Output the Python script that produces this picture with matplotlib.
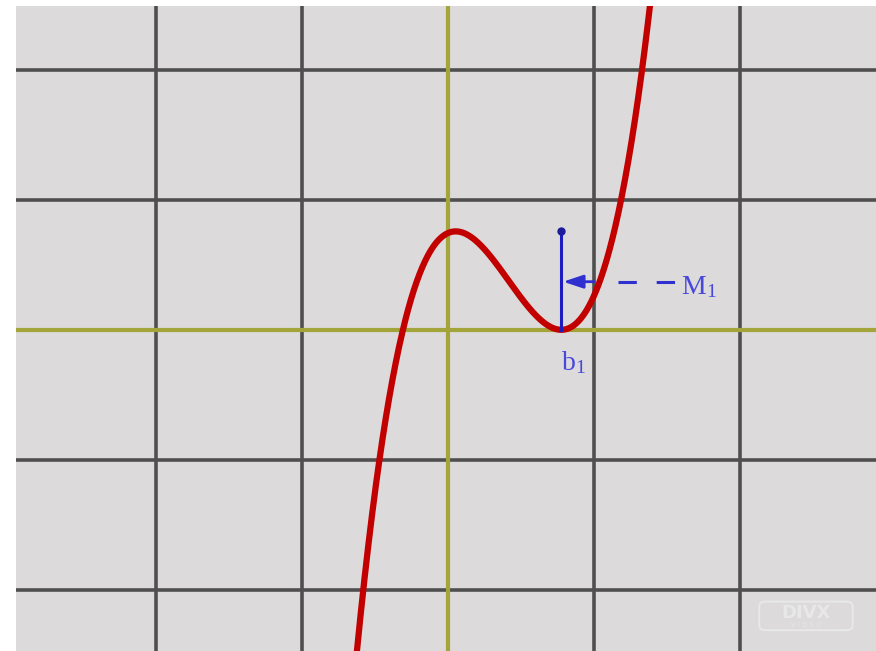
import numpy as np
import matplotlib
matplotlib.use("Agg")
import matplotlib.pyplot as plt
from matplotlib.patches import FancyBboxPatch

plt.rcParams["mathtext.fontset"] = "stix"

### donnees
grid_x = [-2, -1, 1, 2]
grid_y = [-2, -1, 1, 2]

# cubique f(x) = a (x - r) (x - m)^2 , racine double en b1
a = 4.0
r = -0.31
m = 0.775

x_lim = (-2.96, 2.93)
y_lim = (-2.47, 2.49)

arrow_y = 0.37
arrow_tail = 1.0
dash_x = [1.16, 1.555]

### figure
fig = plt.figure(figsize=(8.76, 6.51), dpi=100)
fig.patch.set_facecolor("white")
ax = fig.add_axes([16/876, 0, 860/876, 645/651])
ax.set_facecolor("#dcdadb")
ax.set_xlim(x_lim)
ax.set_ylim(y_lim)
ax.set_xticks([])
ax.set_yticks([])
for s in ax.spines.values():
    s.set_visible(False)

for gx in grid_x:
    ax.axvline(gx, color="#4f4f4f", lw=2.6, zorder=1)
for gy in grid_y:
    ax.axhline(gy, color="#4f4f4f", lw=2.6, zorder=1)
ax.axvline(0, color="#a3a53a", lw=3, zorder=2)
ax.axhline(0, color="#a3a53a", lw=3, zorder=2)

x = np.linspace(-0.75, 1.5, 600)
y = a*(x - r)*(x - m)**2
ax.plot(x, y, color="#c20000", lw=4.5, zorder=4, solid_capstyle="round")

x_max = (m + 2*r)/3
y_top = a*(x_max - r)*(x_max - m)**2

# segment bleu
ax.plot([m, m], [0, y_top], color="#1c1cc0", lw=2.2, zorder=5)
ax.plot([m], [y_top], "o", color="#1c1c9c", ms=5, zorder=6)

ax.annotate("", xy=(m + 0.012, arrow_y), xytext=(arrow_tail, arrow_y),
            arrowprops=dict(arrowstyle="-|>,head_length=1.2,head_width=0.4",
                            color="#3030d0", lw=2.0, shrinkA=0, shrinkB=0),
            zorder=6)
ax.plot(dash_x, [arrow_y, arrow_y], color="#3030d0", lw=2.2,
        linestyle=(0, (6, 6.5)), zorder=5)

ax.text(1.595, arrow_y - 0.1, r"M$_{\mathregular{1}}$", color="#4848dc", fontsize=20,
        family="Liberation Serif", ha="left", va="baseline", zorder=6)
ax.text(m, -0.31, r"b$_{\mathregular{1}}$", color="#4848dc", fontsize=20,
        family="Liberation Serif", ha="left", va="baseline", zorder=6)

# filigrane
wm = FancyBboxPatch((2.13, -2.31), 0.64, 0.22,
                    boxstyle="round,pad=0,rounding_size=0.04",
                    fill=False, ec="#e8e8e8", lw=1.5, zorder=3)
ax.add_patch(wm)
ax.text(2.45, -2.18, "DIVX", color="#e8e8e8", fontsize=13, ha="center",
        va="center", fontweight="bold", zorder=3)
ax.text(2.45, -2.27, "V I D E O", color="#e8e8e8", fontsize=5, ha="center",
        va="center", zorder=3)

plt.savefig("out.png", dpi=100)
